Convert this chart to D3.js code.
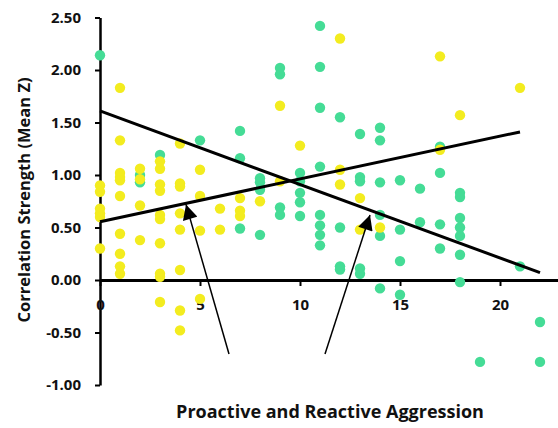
<!DOCTYPE html>
<html>
<head>
<meta charset="utf-8">
<script src="https://cdn.jsdelivr.net/npm/d3@7"></script>
<style>
  body { margin: 0; background: #fff; }
  svg { display: block; font-family: "Open Sans", sans-serif; font-weight: bold; }
</style>
</head>
<body>
<svg width="558" height="428"></svg>
<script>
// yellow series: [aggression, mean Z]
const yellowPoints = [
  [0, 0.90], [0, 0.84], [0, 0.68], [0, 0.635], [0, 0.60], [0, 0.30],
  [1, 1.83], [1, 1.33], [1, 1.02], [1, 0.98], [1, 0.95], [1, 0.80], [1, 0.44], [1, 0.25], [1, 0.13], [1, 0.06],
  [2, 1.06], [2, 0.96], [2, 0.71], [2, 0.38],
  [3, 1.13], [3, 1.06], [3, 0.91], [3, 0.85], [3, 0.62], [3, 0.58], [3, 0.35], [3, 0.06], [3, 0.03], [3, -0.21],
  [4, 1.30], [4, 0.92], [4, 0.89], [4, 0.635], [4, 0.48], [4, 0.095], [4, -0.29], [4, -0.48],
  [5, 1.05], [5, 0.80], [5, 0.47], [5, -0.18],
  [6, 0.68], [6, 0.48],
  [7, 0.78], [7, 0.66], [7, 0.61],
  [8, 0.75],
  [9, 1.66], [9, 0.94],
  [10, 1.28],
  [12, 2.30], [12, 1.05], [12, 0.91],
  [13, 0.78], [13, 0.48],
  [14, 0.50],
  [17, 2.13], [17, 1.24],
  [18, 1.57],
  [21, 1.83]
];

// green series
const greenPoints = [
  [0, 2.14],
  [2, 1.00], [2, 0.93],
  [3, 1.19],
  [5, 1.33],
  [7, 1.42], [7, 1.16], [7, 0.49],
  [8, 0.97], [8, 0.93], [8, 0.86], [8, 0.43],
  [9, 2.02], [9, 1.96], [9, 0.69], [9, 0.62],
  [10, 1.02], [10, 0.94], [10, 0.83], [10, 0.74], [10, 0.61],
  [11, 2.42], [11, 2.03], [11, 1.64], [11, 1.08], [11, 0.62], [11, 0.52], [11, 0.43], [11, 0.33],
  [12, 1.55], [12, 0.50], [12, 0.13], [12, 0.10],
  [13, 1.39], [13, 0.98], [13, 0.94], [13, 0.11], [13, 0.06],
  [14, 1.45], [14, 1.33], [14, 0.93], [14, 0.62], [14, 0.42], [14, -0.08],
  [15, 0.95], [15, 0.48], [15, 0.18], [15, -0.14],
  [16, 0.87], [16, 0.55],
  [17, 1.27], [17, 1.02], [17, 0.53], [17, 0.30],
  [18, 0.83], [18, 0.79], [18, 0.59], [18, 0.50], [18, 0.42], [18, 0.24], [18, -0.02],
  [19, -0.78],
  [21, 0.13],
  [22, -0.40], [22, -0.78]
];

const yellowTrend = [[0, 0.555], [21, 1.41]];
const greenTrend = [[0, 1.61], [22, 0.07]];

// arrows: [from, tip]
const arrows = [
  [[6.45, -0.705], [4.3, 0.72]],
  [[11.25, -0.705], [13.5, 0.62]]
];

const xTicks = [0, 5, 10, 15, 20];
const yTicks = [-1, -0.5, 0, 0.5, 1, 1.5, 2, 2.5];

const svg = d3.select('svg');

const x = d3.scaleLinear().domain([0, 25]).range([100, 600]);
const y = d3.scaleLinear().domain([-1, 2.5]).range([385, 17.5]);

const defs = svg.append('defs');
defs.append('marker')
  .attr('id', 'head')
  .attr('viewBox', '0 0 10 10')
  .attr('refX', 10)
  .attr('refY', 5)
  .attr('markerWidth', 11)
  .attr('markerHeight', 10)
  .attr('markerUnits', 'strokeWidth')
  .attr('orient', 'auto')
  .append('path')
  .attr('d', 'M0,0 L10,5 L0,10 Z')
  .attr('fill', '#000');

// y axis
const yAxis = svg.append('g')
  .attr('transform', `translate(${x(0)},0)`)
  .call(d3.axisLeft(y).tickValues(yTicks).tickSize(5).tickSizeOuter(0).tickPadding(14)
    .tickFormat(d => d.toFixed(2)));
yAxis.select('.domain').attr('stroke-width', 2.5);
yAxis.selectAll('.tick line').attr('stroke-width', 2);
yAxis.selectAll('text').attr('font-size', 15).attr('font-family', '"Open Sans", sans-serif').attr('font-weight', 'bold').attr('fill', '#111');

// x axis at y = 0
const xAxis = svg.append('g')
  .attr('transform', `translate(0,${y(0)})`)
  .call(d3.axisBottom(x).tickValues(xTicks).tickSize(6).tickSizeOuter(0).tickPadding(13));
xAxis.select('.domain').attr('stroke-width', 3);
xAxis.selectAll('.tick line').attr('stroke-width', 2);
xAxis.selectAll('text').attr('font-size', 15).attr('font-family', '"Open Sans", sans-serif').attr('font-weight', 'bold').attr('fill', '#111');

// points
svg.append('g').selectAll('circle')
  .data(greenPoints)
  .join('circle')
  .attr('cx', d => x(d[0]))
  .attr('cy', d => y(d[1]))
  .attr('r', 5.2)
  .attr('fill', '#45DC96');

svg.append('g').selectAll('circle')
  .data(yellowPoints)
  .join('circle')
  .attr('cx', d => x(d[0]))
  .attr('cy', d => y(d[1]))
  .attr('r', 5.2)
  .attr('fill', '#F3EC1F');

// trend lines
const line = d3.line().x(d => x(d[0])).y(d => y(d[1]));
svg.append('path').attr('d', line(greenTrend)).attr('stroke', '#000').attr('stroke-width', 3).attr('fill', 'none');
svg.append('path').attr('d', line(yellowTrend)).attr('stroke', '#000').attr('stroke-width', 3).attr('fill', 'none');

// arrows
svg.append('g').selectAll('path')
  .data(arrows)
  .join('path')
  .attr('d', d => line(d))
  .attr('stroke', '#000')
  .attr('stroke-width', 1.5)
  .attr('fill', 'none')
  .attr('marker-end', 'url(#head)');

// titles
svg.append('text')
  .attr('x', 330)
  .attr('y', 418)
  .attr('text-anchor', 'middle')
  .attr('font-size', 18)
  .attr('fill', '#111')
  .text('Proactive and Reactive Aggression');

svg.append('text')
  .attr('transform', 'translate(30,200) rotate(-90)')
  .attr('text-anchor', 'middle')
  .attr('font-size', 16.5)
  .attr('fill', '#111')
  .text('Correlation Strength (Mean Z)');
</script>
</body>
</html>
